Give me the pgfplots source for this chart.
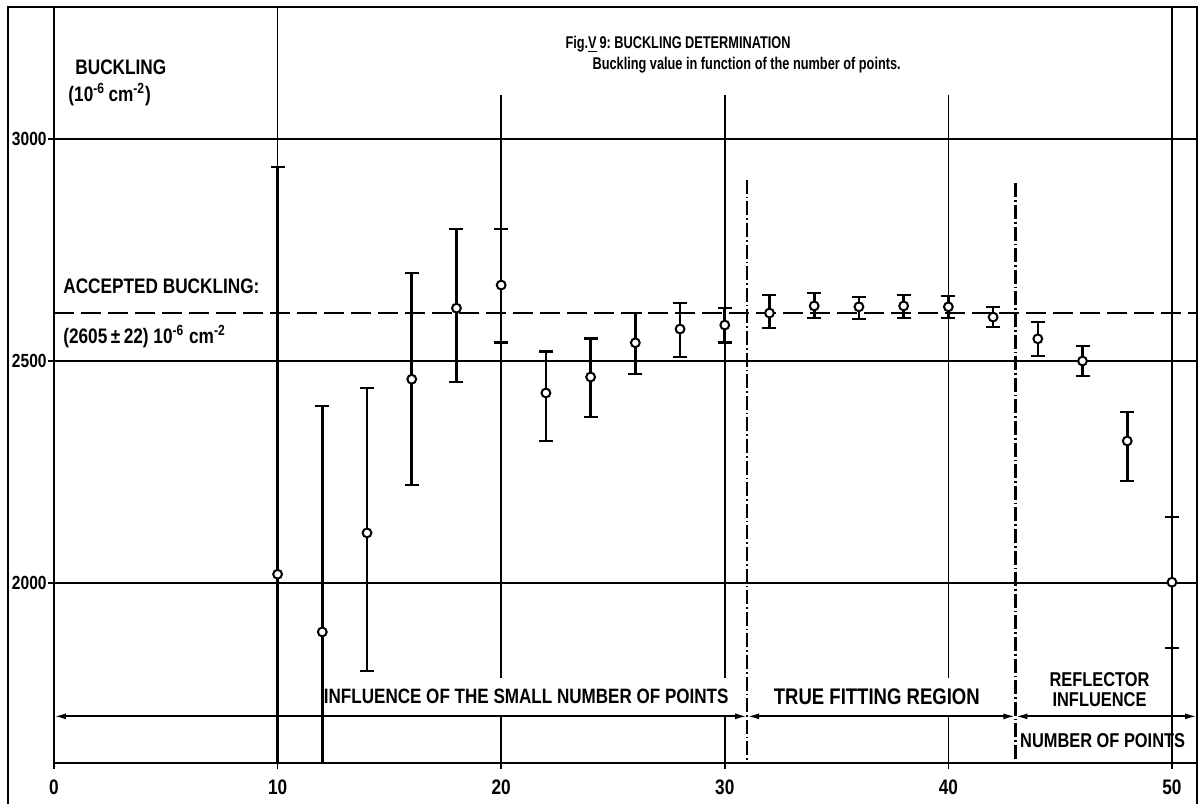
\documentclass[border=0pt]{standalone}
\usepackage{fontspec}
\setmainfont{Liberation Sans}[FakeStretch=0.82]
\newfontfamily\titlefont{Liberation Sans}[FakeStretch=0.75]
\usepackage{pgfplots}
\usepackage{pgfplotstable}
\pgfplotsset{compat=1.18}
\usetikzlibrary{arrows.meta}
\pgfplotstableread{
x y ep em
10 2020 917 917
12 1890 509 509
14 2113 326 311
16 2459 239 238
18 2619 178 166
20 2671 126 130
22 2428 94 108
24 2464 86 90
26 2541 67 70
28 2572 59 63
30 2581 38 40
32 2608 41 34
34 2624 29 27
36 2622 22 27
38 2624 25 27
40 2622 24 25
42 2599 23 22
44 2550 38 39
46 2500 34 34
48 2320 65 90
50 2002 147 148
}\data
\begin{document}
\begin{tikzpicture}[font=\bfseries]
\begin{axis}[
 scale only axis, width=571.5pt, height=378pt,
 xmin=0, xmax=51.12, ymin=1595, ymax=3297,
 axis line style={line width=1pt},
 xtick={0,10,...,50}, ytick={2000,2500,3000},
 xtick pos=bottom, ytick pos=left,
 tick align=outside, major tick length=3pt,
 tick style={line width=0.8pt, black},
 /pgf/number format/assume math mode=true,
 /pgf/number format/1000 sep={},
 xticklabel style={font=\bfseries\fontsize{10.5}{10.5}\selectfont, yshift=-2pt},
 yticklabel style={font=\bfseries\fontsize{9.5}{9.5}\selectfont, inner sep=0.5pt},
]
% grid lines
\draw[line width=0.75pt] (axis cs:0,2000) -- (axis cs:51.12,2000);
\draw[line width=0.75pt] (axis cs:0,2500) -- (axis cs:51.12,2500);
\draw[line width=0.75pt] (axis cs:0,3000) -- (axis cs:51.12,3000);
\draw[line width=0.8pt] (axis cs:10,1595) -- (axis cs:10,3297);
\draw[line width=0.8pt] (axis cs:50,1595) -- (axis cs:50,3297);
\draw[line width=0.75pt] (axis cs:20,3099) -- (axis cs:20,1786);
\draw[line width=0.75pt] (axis cs:20,1700) -- (axis cs:20,1595);
\draw[line width=0.75pt] (axis cs:30,3099) -- (axis cs:30,1786);
\draw[line width=0.75pt] (axis cs:30,1700) -- (axis cs:30,1595);
\draw[line width=0.75pt] (axis cs:40,3099) -- (axis cs:40,1786);
\draw[line width=0.75pt] (axis cs:40,1700) -- (axis cs:40,1595);
% accepted buckling
\draw[line width=1pt, dash pattern=on 10pt off 3.5pt] (axis cs:0,2607) -- (axis cs:51.12,2607);
% region separators
\draw[line width=1.1pt, dash pattern=on 7pt off 1.5pt on 0.8pt off 1.5pt] (axis cs:31,2908) -- (axis cs:31,1595);
\draw[line width=1.1pt, dash pattern=on 7pt off 1.5pt on 0.8pt off 1.5pt] (axis cs:43,2900) -- (axis cs:43,1595);
% dimension arrows
\draw[line width=1pt, {Latex[length=6pt,width=3pt]}-{Latex[length=6pt,width=3pt]}] (axis cs:0,1700) -- (axis cs:31,1700);
\draw[line width=1pt, {Latex[length=6pt,width=3pt]}-{Latex[length=6pt,width=3pt]}] (axis cs:31,1700) -- (axis cs:43,1700);
\draw[line width=1pt, {Latex[length=6pt,width=3pt]}-{Latex[length=6pt,width=3pt]}] (axis cs:43,1700) -- (axis cs:51.12,1700);

\addplot[only marks, mark=*, mark size=2.2pt,
 mark options={fill=white, draw=black, line width=1pt},
 error bars/.cd, y dir=both, y explicit,
 error bar style={line width=1.3pt, black},
 error mark options={rotate=90, line width=1.3pt, mark size=3.5pt, black}]
 table[x=x, y=y, y error plus=ep, y error minus=em] {\data};

% texts
\node[anchor=west, font=\bfseries\fontsize{10.5}{10.5}\selectfont, inner sep=0pt] at (axis cs:0.94,3162) {BUCKLING};
\node[anchor=west, font=\bfseries\fontsize{10.5}{10.5}\selectfont, inner sep=0pt] at (axis cs:0.63,3099) {(10\textsuperscript{-6}\,cm\textsuperscript{-2})};
\node[anchor=west, font=\titlefont\bfseries\fontsize{8.5}{8.5}\selectfont, inner sep=0pt] at (axis cs:22.86,3212) {Fig.\underline{V}\,9:\ BUCKLING DETERMINATION};
\node[anchor=west, font=\titlefont\bfseries\fontsize{8.5}{8.5}\selectfont, inner sep=0pt] at (axis cs:24.07,3167) {Buckling value in function of the number of points.};
\node[anchor=west, font=\bfseries\fontsize{10.5}{10.5}\selectfont, inner sep=0pt] at (axis cs:0.4,2669) {ACCEPTED BUCKLING:};
\node[anchor=west, font=\bfseries\fontsize{10.5}{10.5}\selectfont, inner sep=0pt] at (axis cs:0.4,2556) {(2605\,±\,22)\ 10\textsuperscript{-6}\ cm\textsuperscript{-2}};
\node[font=\bfseries\fontsize{10.4}{10.4}\selectfont, inner sep=0pt] at (axis cs:21.12,1745) {INFLUENCE OF THE SMALL NUMBER OF POINTS};
\node[font=\bfseries\fontsize{11.3}{11.3}\selectfont, inner sep=0pt] at (axis cs:36.8,1745) {TRUE FITTING REGION};
\node[font=\bfseries\fontsize{10}{10}\selectfont, inner sep=0pt, align=center] at (axis cs:46.76,1760) {REFLECTOR\\INFLUENCE};
\node[font=\bfseries\fontsize{10}{10}\selectfont, inner sep=0pt] at (axis cs:46.9,1646) {NUMBER OF POINTS};

\coordinate (sw) at (rel axis cs:0,0);
\coordinate (ne) at (rel axis cs:1,1);
\coordinate (tl) at (rel axis cs:0,1);
\coordinate (br) at (rel axis cs:1,0);
\end{axis}
\draw[line width=1pt] ([xshift=-23pt,yshift=-20.5pt]sw) -- ([xshift=-23pt]tl) -- (tl);
\draw[line width=1pt] (ne) -- ([yshift=-20.5pt]br);
\pgfresetboundingbox
\path[use as bounding box] ([xshift=-27pt,yshift=-20.5pt]sw) rectangle ([xshift=3pt,yshift=3.5pt]ne);
\end{tikzpicture}
\end{document}
